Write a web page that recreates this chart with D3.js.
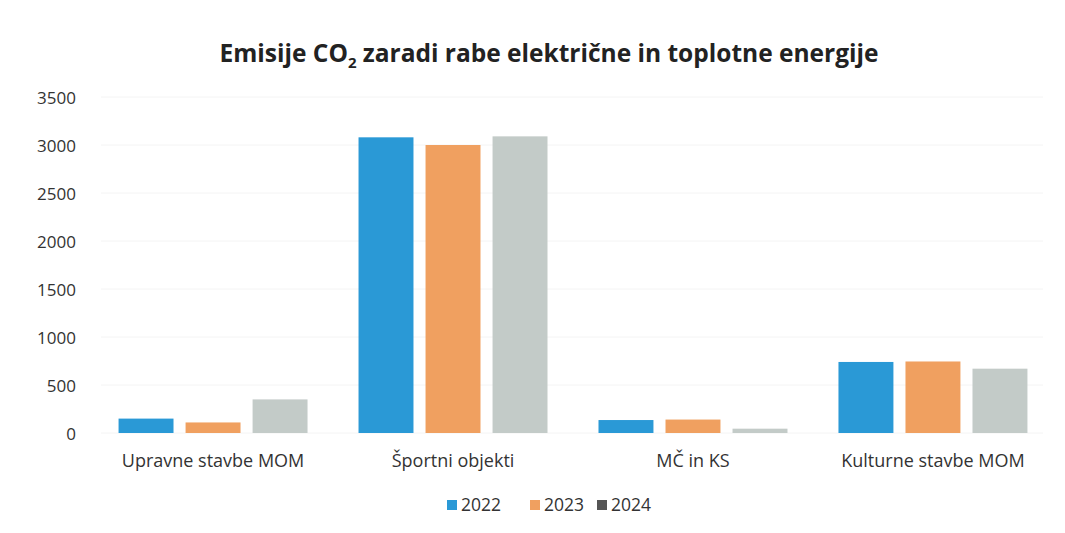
<!DOCTYPE html>
<html>
<head>
<meta charset="utf-8">
<script src="https://cdn.jsdelivr.net/npm/d3@7"></script>
<style>
  body { margin: 0; background: #fff; }
  svg { display: block; }
  text { font-family: "Open Sans", "Noto Sans", sans-serif; }
</style>
</head>
<body>
<svg id="chart"></svg>
<script>
// Data
const categories = ['Upravne stavbe MOM', 'Športni objekti', 'MČ in KS', 'Kulturne stavbe MOM'];
const years = ['2022', '2023', '2024'];
const values2022 = [150, 3080, 135, 740];
const values2023 = [110, 3000, 140, 745];
const values2024 = [350, 3090, 45, 670];
const yTicks = [0, 500, 1000, 1500, 2000, 2500, 3000, 3500];

const seriesValues = [values2022, values2023, values2024];
const colors = ['#2a99d6', '#f0a060', '#c3cbc8'];
const legendColors = ['#2a99d6', '#f0a060', '#555'];

const width = 1065, height = 533;
const margin = { top: 97, right: 12, bottom: 100, left: 93 };

const svg = d3.select('#chart')
  .attr('width', width)
  .attr('height', height);

const x0 = d3.scaleBand()
  .domain(categories)
  .range([margin.left, width - margin.right])
  .paddingInner(0.2125)
  .paddingOuter(0.1065);

const x1 = d3.scaleBand()
  .domain(years)
  .range([0, x0.bandwidth()])
  .paddingInner(0.18)
  .paddingOuter(0);

const y = d3.scaleLinear()
  .domain([0, 3500])
  .range([height - margin.bottom, margin.top]);

// faint gridlines
svg.append('g')
  .selectAll('line')
  .data(yTicks)
  .enter().append('line')
  .attr('x1', margin.left + 8)
  .attr('x2', width - margin.right - 10)
  .attr('y1', d => y(d))
  .attr('y2', d => y(d))
  .attr('stroke', '#f4f4f4')
  .attr('stroke-width', 1);

// y axis labels
const yAxis = svg.append('g')
  .attr('transform', `translate(${margin.left - 17},0)`)
  .call(d3.axisLeft(y).tickValues(yTicks).tickFormat(d3.format('d')).tickSize(0).tickPadding(0));
yAxis.select('.domain').remove();
yAxis.selectAll('text')
  .attr('dy', '0.4em')
  .style('font-size', '17px')
  .style('font-family', '"Open Sans", sans-serif')
  .attr('fill', '#333');

// bars
const groups = svg.append('g')
  .selectAll('g')
  .data(categories)
  .enter().append('g')
  .attr('transform', d => `translate(${x0(d)},0)`);

groups.selectAll('rect')
  .data((c, i) => years.map((yr, s) => ({ year: yr, s, value: seriesValues[s][i] })))
  .enter().append('rect')
  .attr('x', d => x1(d.year))
  .attr('width', x1.bandwidth())
  .attr('y', d => y(d.value))
  .attr('height', d => y(0) - y(d.value))
  .attr('fill', d => colors[d.s]);

// category labels
const xAxis = svg.append('g')
  .attr('transform', `translate(0,${y(0)})`)
  .call(d3.axisBottom(x0).tickSize(0).tickPadding(21));
xAxis.select('.domain').remove();
xAxis.selectAll('text')
  .style('font-size', '18px')
  .style('font-family', '"Open Sans", sans-serif')
  .attr('fill', '#333');

// title
const title = svg.append('text')
  .attr('x', 549)
  .attr('y', 62)
  .attr('text-anchor', 'middle')
  .style('font-size', '24.5px')
  .style('font-weight', '700')
  .attr('fill', '#222');
title.append('tspan').text('Emisije CO');
title.append('tspan').text('2').attr('dy', 6).style('font-size', '15px');
title.append('tspan').text(' zaradi rabe električne in toplotne energije').attr('dy', -6);

// legend
const legendX = [447, 530, 597];
const legend = svg.append('g')
  .selectAll('g')
  .data(years)
  .enter().append('g')
  .attr('transform', (d, i) => `translate(${legendX[i]},505)`);
legend.append('rect')
  .attr('x', 0).attr('y', -5)
  .attr('width', 10).attr('height', 10)
  .attr('fill', (d, i) => legendColors[i]);
legend.append('text')
  .attr('x', 14)
  .attr('dy', '0.36em')
  .style('font-size', '17.5px')
  .attr('fill', '#333')
  .text(d => d);
</script>
</body>
</html>
